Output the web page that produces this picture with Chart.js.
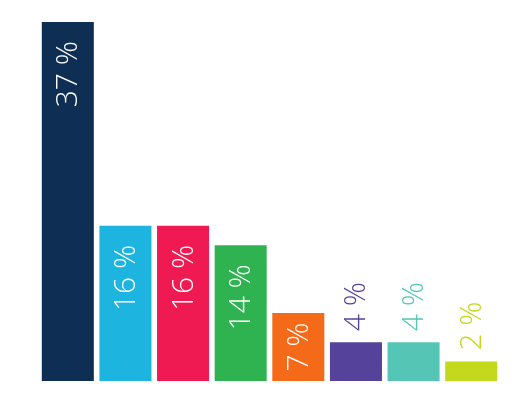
<!DOCTYPE html>
<html>
<head>
<meta charset="utf-8">
<script src="https://cdn.jsdelivr.net/npm/chart.js@4/dist/chart.umd.min.js"></script>
<style>
  html, body { margin: 0; padding: 0; background: #fff; }
  #wrap { width: 519px; height: 403px; }
</style>
</head>
<body>
<div id="wrap"><canvas id="chart1"></canvas></div>
<script>
// data
const categories = ['A', 'B', 'C', 'D', 'E', 'F', 'G', 'H'];
const values = [37, 16, 16, 14, 7, 4, 4, 2];
const barColors = ['#0f2e53', '#1db4df', '#ef1a51', '#2eb350', '#f46a19', '#55439b', '#55c6b5', '#c4d91b'];

// labels drawn rotated, inside the bar when they fit, above it otherwise
const barLabels = {
  id: 'barLabels',
  afterDatasetsDraw(chart) {
    const ctx = chart.ctx;
    const meta = chart.getDatasetMeta(0);
    ctx.save();
    ctx.font = '300 30px "Open Sans"';
    ctx.textBaseline = 'middle';
    meta.data.forEach((bar, i) => {
      const txt = values[i] + ' %';
      const w = ctx.measureText(txt).width;
      const h = bar.base - bar.y;
      let endY, color;
      if (h >= w + 14) {
        const pad = Math.min(19, (h - w) / 2);
        endY = bar.y + pad;
        color = '#fff';
      } else {
        endY = bar.y - 11 - w;
        color = barColors[i];
      }
      ctx.save();
      ctx.translate(bar.x + 1, endY + w);
      ctx.rotate(-Math.PI / 2);
      ctx.fillStyle = color;
      ctx.textAlign = 'left';
      ctx.fillText(txt, 0, 0);
      ctx.restore();
    });
    ctx.restore();
  }
};

const config1 = {
  type: 'bar',
  data: {
    labels: categories,
    datasets: [{
      data: values,
      backgroundColor: barColors,
      borderWidth: 0,
      barPercentage: 0.903,
      categoryPercentage: 1
    }]
  },
  options: {
    responsive: true,
    maintainAspectRatio: false,
    animation: false,
    layout: { padding: { left: 39, right: 19, top: 22, bottom: 22 } },
    plugins: { legend: { display: false }, tooltip: { enabled: false } },
    scales: {
      x: { display: false },
      y: { display: false, min: 0, max: 37 }
    }
  },
  plugins: [barLabels]
};

const myChart1 = new Chart(document.getElementById('chart1'), config1);
</script>
</body>
</html>
